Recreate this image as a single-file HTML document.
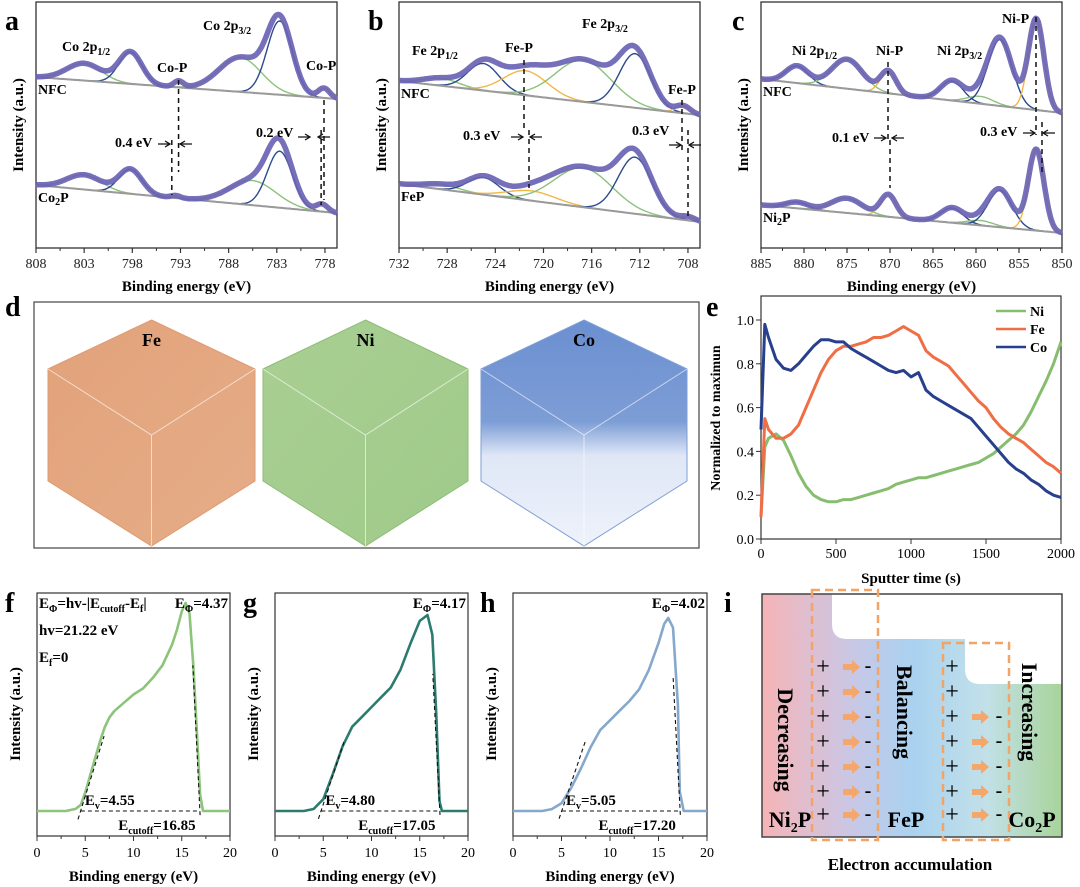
<!DOCTYPE html>
<html><head><meta charset="utf-8"><style>
html,body{margin:0;padding:0;background:#fff;width:1080px;height:887px;overflow:hidden}
svg{display:block;font-family:"Liberation Serif",serif}
.b{font-weight:bold}
</style></head><body>
<svg id="fig" xmlns="http://www.w3.org/2000/svg" width="1080" height="887" viewBox="0 0 1080 887">
<defs>
<linearGradient id="gI" x1="0" x2="1" y1="0" y2="0">
<stop offset="0" stop-color="#f6b4b6"/><stop offset="0.3" stop-color="#c9c7e6"/><stop offset="0.5" stop-color="#a9d2f0"/><stop offset="0.75" stop-color="#c2e0e8"/><stop offset="1" stop-color="#a8d49a"/></linearGradient>
<linearGradient id="gFe" x1="0" y1="0" x2="1" y2="1"><stop offset="0" stop-color="#e2a27a"/><stop offset="1" stop-color="#e5ad88"/></linearGradient>
<linearGradient id="gNi" x1="0" y1="0" x2="1" y2="1"><stop offset="0" stop-color="#a9cf92"/><stop offset="1" stop-color="#9fca8a"/></linearGradient>
<linearGradient id="gCo" x1="0" y1="0" x2="0" y2="1"><stop offset="0" stop-color="#6b8fd0"/><stop offset="0.45" stop-color="#7d9dd6"/><stop offset="0.6" stop-color="#dfe7f6"/><stop offset="1" stop-color="#eef2fb"/></linearGradient>
</defs>
</svg>
<script>
// ---------- DATA ----------
const aNfcCenters=[803,798.2,793.2,786.8,782.7,778.1];
const aNfcAmps=[7,13,2.5,14,30,4];
const aNfcSig=[1.8,1.2,0.5,2.2,1.3,0.6];
const aNfcBase=[69.5,60.6];
const aCoCenters=[803,798.2,793.5,785.5,782.7,778.3];
const aCoAmps=[6,10,1,10,23,3];
const aCoSig=[1.8,1.2,0.5,2.4,1.3,0.6];
const aCoBase=[25.6,14.2];
const aTypes=['g','b','y','g','b','y'];
const aTicks=[808,803,798,793,788,783,778];
const bNfcCenters=[728.5,725,721.5,716.7,712.4,708.4];
const bNfcAmps=[3,11,10,17,22,3];
const bNfcSig=[1.5,1.3,1.8,2.3,1.3,0.6];
const bNfcBase=[67.9,54];
const bFeCenters=[728.5,725,721,716.7,712.4,708];
const bFeAmps=[2,7,4,16,23,1.5];
const bFeSig=[1.5,1.3,2,2.4,1.4,0.6];
const bFeBase=[26,10.6];
const bTypes=['g','b','y','g','b','y'];
const bTicks=[732,728,724,720,716,712,708];
const cNfcCenters=[880.8,875,870.2,862.8,859.5,857.2,853];
const cNfcAmps=[7,12,9,8,3,27,37];
const cNfcSig=[1.3,1.8,0.9,1.3,1.5,1.4,0.9];
const cNfcBase=[68.7,54.9];
const cNiCenters=[880.8,875,870.2,862.8,859.5,857.2,853];
const cNiAmps=[2.5,6,9,6,2,15,33];
const cNiSig=[1.3,1.8,0.9,1.3,1.5,1.4,0.9];
const cNiBase=[17.5,6.1];
const cTypes=['b','g','y','b','g','b','y'];
const cTicks=[885,880,875,870,865,860,855,850];
const eTime=[0,25,50,100,150,200,250,300,350,400,450,500,550,600,650,700,750,800,850,900,950,1000,1050,1100,1150,1200,1250,1300,1350,1400,1450,1500,1550,1600,1650,1700,1750,1800,1850,1900,1950,2000];
const eNi=[0.1,0.42,0.46,0.48,0.45,0.38,0.3,0.24,0.2,0.18,0.17,0.17,0.18,0.18,0.19,0.2,0.21,0.22,0.23,0.25,0.26,0.27,0.28,0.28,0.29,0.3,0.31,0.32,0.33,0.34,0.35,0.37,0.39,0.42,0.45,0.48,0.52,0.58,0.65,0.72,0.8,0.9];
const eFe=[0.1,0.55,0.5,0.46,0.46,0.48,0.52,0.6,0.68,0.76,0.82,0.86,0.88,0.88,0.89,0.9,0.92,0.92,0.93,0.95,0.97,0.95,0.93,0.86,0.83,0.81,0.79,0.75,0.71,0.67,0.63,0.6,0.55,0.51,0.48,0.46,0.44,0.41,0.38,0.35,0.33,0.3];
const eCo=[0.5,0.98,0.92,0.82,0.78,0.77,0.8,0.84,0.88,0.91,0.91,0.9,0.9,0.87,0.85,0.83,0.81,0.79,0.77,0.76,0.77,0.74,0.76,0.68,0.65,0.63,0.61,0.59,0.57,0.55,0.51,0.47,0.43,0.39,0.35,0.32,0.3,0.27,0.25,0.22,0.2,0.19];
const eXTicks=[0,500,1000,1500,2000];
const eYTicks=[0,0.2,0.4,0.6,0.8,1.0];
const fE=[0,3,4,4.55,5,5.5,6,6.5,7,7.5,8,9,10,11,12,13,14,14.5,15,15.4,15.8,16.2,16.6,16.9,17.2,18,20];
const fI=[0,0,0.01,0.03,0.09,0.17,0.25,0.33,0.4,0.45,0.48,0.52,0.56,0.59,0.64,0.7,0.8,0.87,0.96,1,0.95,0.7,0.35,0.08,0,0,0];
const gE=[0,3,4,5,6,7,8,9,10,11,12,13,14,15,15.8,16.3,16.7,17.05,17.3,18,20];
const gI=[0,0,0.01,0.06,0.19,0.33,0.43,0.48,0.53,0.58,0.63,0.72,0.85,0.97,1,0.9,0.5,0.05,0,0,0];
const hE=[0,3,4,5,6,7,8,9,10,11,12,13,14,15,15.6,16,16.5,17,17.2,17.6,20];
const hI=[0,0,0.01,0.04,0.12,0.22,0.33,0.42,0.47,0.52,0.57,0.63,0.73,0.87,0.97,1,0.95,0.55,0.1,0,0];
const upsEv=[4.55,4.80,5.05];
const upsCut=[16.85,17.05,17.20];
const upsTicks=[0,5,10,15,20];

// ---------- HELPERS ----------
const NS='http://www.w3.org/2000/svg';
const svg=document.getElementById('fig');
function mk(tag,at,parent){const e=document.createElementNS(NS,tag);for(const k in at)e.setAttribute(k,at[k]);(parent||svg).appendChild(e);return e;}
function txt(x,y,s,size,opt,parent){const t=mk('text',Object.assign({x:x,y:y,'font-size':size},opt||{}),parent);t.innerHTML=s;return t;}
const COL={g:'#8cc27a',b:'#2c4a8c',y:'#f0b848'};

// ---------- XPS ----------
function xps(P){
  const g=mk('g',{});
  
  
  const X=e=>P.x0+(P.e0-e)*(P.x1-P.x0)/(P.e0-P.e1);
  const Y=v=>248-v*2.46;
  const box=mk('rect',{x:P.x0,y:2,width:P.x1-P.x0,height:246,fill:'none',stroke:'#333','stroke-width':1.3},g);
  
  
  P.ticks.forEach((t,i)=>{
    const tk=mk('line',{x1:X(t),x2:X(t),y1:248,y2:253,stroke:'#333','stroke-width':1.2},g);
    
    
    const lb=txt(X(t),268,t,14,{'text-anchor':'middle',fill:'#222'},g);
    
    
    if(i<P.ticks.length-1){const m=(t+P.ticks[i+1])/2;
      const mt=mk('line',{x1:X(m),x2:X(m),y1:248,y2:251,stroke:'#333','stroke-width':1},g);
      
      }
  });
  const xt=txt((P.x0+P.x1)/2,291,'Binding energy (eV)',15,{'text-anchor':'middle','class':'b'},g);
  
  
  const yt=txt(0,0,'Intensity (a.u.)',15,{'text-anchor':'middle','class':'b',transform:`translate(${P.x0-13},125) rotate(-90)`},g);
  
  
  P.spectra.forEach(S=>{
    const N=240,pts=[];
    const base=e=>S.base[0]+(S.base[1]-S.base[0])*(P.e0-e)/(P.e0-P.e1);
    for(let i=0;i<=N;i++){const e=P.e0-(P.e0-P.e1)*i/N;pts.push(e);}
    S.c.forEach((c,k)=>{
      const d='M'+pts.map(e=>X(e).toFixed(1)+','+Y(base(e)+S.a[k]*Math.exp(-Math.pow((e-c)/S.s[k],2)/2)).toFixed(1)).join('L');
      const cp=mk('path',{d:d,fill:'none',stroke:COL[P.types[k]],'stroke-width':1.4},g);
      
      
    });
    const bl=mk('path',{d:'M'+pts.map(e=>X(e).toFixed(1)+','+Y(base(e)).toFixed(1)).join('L'),fill:'none',stroke:'#9a9a9a','stroke-width':2},g);
    
    
    const tot=e=>base(e)+S.c.reduce((s,c,k)=>s+S.a[k]*Math.exp(-Math.pow((e-c)/S.s[k],2)/2),0);
    const tp=mk('path',{d:'M'+pts.map(e=>X(e).toFixed(1)+','+Y(tot(e)).toFixed(1)).join('L'),fill:'none',stroke:'#6a63b3','stroke-width':5.5,'stroke-linejoin':'round','opacity':0.92},g);
    
    
    const lb=txt(P.x0+2,Y(S.base[0])+17,S.label,14,{'class':'b'},g);
    
    
  });
  return {g:g,X:X};
}
const pa=xps({name:'panel-a-co2p',x0:36,x1:337,e0:808,e1:776.75,ticks:aTicks,types:aTypes,
 spectra:[{c:aNfcCenters,a:aNfcAmps,s:aNfcSig,base:aNfcBase,label:'NFC'},{c:aCoCenters,a:aCoAmps,s:aCoSig,base:aCoBase,label:'Co<tspan font-size="10" dy="3">2</tspan><tspan dy="-3">P</tspan>'}]});
const pb=xps({name:'panel-b-fe2p',x0:399,x1:700,e0:732,e1:707,ticks:bTicks,types:bTypes,
 spectra:[{c:bNfcCenters,a:bNfcAmps,s:bNfcSig,base:bNfcBase,label:'NFC'},{c:bFeCenters,a:bFeAmps,s:bFeSig,base:bFeBase,label:'FeP'}]});
const pc=xps({name:'panel-c-ni2p',x0:761,x1:1062,e0:885,e1:850,ticks:cTicks,types:cTypes,
 spectra:[{c:cNfcCenters,a:cNfcAmps,s:cNfcSig,base:cNfcBase,label:'NFC'},{c:cNiCenters,a:cNiAmps,s:cNiSig,base:cNiBase,label:'Ni<tspan font-size="10" dy="3">2</tspan><tspan dy="-3">P</tspan>'}]});

function dash(x,y1,y2){const l=mk('line',{x1:x,x2:x,y1:y1,y2:y2,stroke:'#111','stroke-width':1.5,'stroke-dasharray':'5,4'});
  
  }
function arrow(x,y,dir){const l=mk('path',{d:`M${x-12*dir},${y}L${x},${y}M${x-5*dir},${y-3}L${x},${y}L${x-5*dir},${y+3}`,stroke:'#111','stroke-width':1.3,fill:'none'});
  
  }
function lab(x,y,s,sz,anchor){const t=txt(x,y,s,sz||14,{'class':'b','text-anchor':anchor||'start'});
  
  return t;}
const sub=(s)=>`<tspan font-size="10" dy="4">${s}</tspan><tspan dy="-4"></tspan>`;
lab(62,51,'Co 2p'+sub('1/2'));lab(203,30,'Co 2p'+sub('3/2'));lab(157,72,'Co-P');lab(306,70,'Co-P');
dash(pa.X(793.2),80,172);dash(pa.X(793.9),140,195);dash(pa.X(778.1),100,200);dash(pa.X(778.4),130,205);
lab(115,147,'0.4 eV');arrow(170,144,1);arrow(180,144,-1);lab(256,137,'0.2 eV');arrow(310,137,1);arrow(318,137,-1);
lab(412,55,'Fe 2p'+sub('1/2'));lab(582,28,'Fe 2p'+sub('3/2'));lab(505,52,'Fe-P');lab(668,94,'Fe-P');
dash(524,60,130);dash(529,130,188);dash(682,100,150);dash(688,130,218);
lab(463,140,'0.3 eV');arrow(523,137,1);arrow(530,137,-1);lab(632,135,'0.3 eV');arrow(681,145,1);arrow(689,145,-1);
lab(792,55,'Ni 2p'+sub('1/2'));lab(937,55,'Ni 2p'+sub('3/2'));lab(876,55,'Ni-P');lab(1002,23,'Ni-P');
dash(888,62,140);dash(890,140,188);dash(1036,17,135);dash(1042,122,175);
lab(832,142,'0.1 eV');arrow(886,138,1);arrow(892,138,-1);lab(980,136,'0.3 eV');arrow(1035,133,1);arrow(1043,133,-1);

[['a',5,30],['b',368,30],['c',732,30],['d',5,316],['e',706,316],['f',5,612],['g',243,612],['h',480,612],['i',724,612]].forEach(p=>{
  const t=txt(p[1],p[2],p[0],28,{'class':'b'});
  
  
});

// ---------- panel d cubes ----------
const dFrame=mk('rect',{x:34,y:302,width:665,height:246,fill:'none',stroke:'#444','stroke-width':1.2});


[['Fe',48,255,'gFe','#e09a70'],['Ni',263,468,'gNi','#8dbd75'],['Co',481,687,'gCo','#7f9fd6']].forEach(c=>{
  const l=c[1],r=c[2],m=(l+r)/2;
  const poly=`${m},320 ${r},369 ${r},481 ${m},546 ${l},481 ${l},369`;
  const cube=mk('polygon',{points:poly,fill:`url(#${c[3]})`,stroke:c[4],'stroke-width':1});
  
  
  const ed=mk('path',{d:`M${l},369L${m},435L${r},369M${m},435L${m},546`,stroke:'#ffffff','stroke-opacity':0.6,'stroke-width':1,fill:'none'});
  
  
  const t=txt(m,346,c[0],18,{'class':'b','text-anchor':'middle'});
  
  
});

// ---------- panel e ----------
(function(){
  const X=t=>761+t*(1061-761)/2000, Y=v=>539-v*(539-320);
  const fr=mk('rect',{x:761,y:296,width:300,height:243,fill:'none',stroke:'#333','stroke-width':1.2});
  
  
  eXTicks.forEach(t=>{
    const k=mk('line',{x1:X(t),x2:X(t),y1:539,y2:544,stroke:'#333'});
    
    
    const l=txt(X(t),558,t,14,{'text-anchor':'middle'});
    
    
  });
  eYTicks.forEach(v=>{
    const k=mk('line',{x1:756,x2:761,y1:Y(v),y2:Y(v),stroke:'#333'});
    
    
    const l=txt(754,Y(v)+5,v.toFixed(1),14,{'text-anchor':'end'});
    
    
  });
  const xt=txt(911,583,'Sputter time (s)',15,{'text-anchor':'middle','class':'b'});
  
  
  const yt=txt(0,0,'Normalized to maximun',14,{'text-anchor':'middle','class':'b',transform:'translate(720,418) rotate(-90)'});
  
  
  [['Ni',eNi,'#86bd6f'],['Fe',eFe,'#ef6e45'],['Co',eCo,'#273f8c']].forEach((s,i)=>{
    const p=mk('path',{d:'M'+eTime.map((t,j)=>X(t).toFixed(1)+','+Y(s[1][j]).toFixed(1)).join('L'),fill:'none',stroke:s[2],'stroke-width':3,'stroke-linejoin':'round'});
    
    
    const ly=311+i*18;
    const ll=mk('line',{x1:996,x2:1026,y1:ly,y2:ly,stroke:s[2],'stroke-width':2.5});
    
    
    const lt=txt(1030,ly+5,s[0],14,{'class':'b'});
    
    
  });
})();

// ---------- UPS panels ----------
function ups(x0,x1,peakY,E,I,ev,cut,color,name){
  const X=e=>x0+e*(x1-x0)/20, Y=v=>811-v*(811-peakY);
  const fr=mk('rect',{x:x0,y:593,width:x1-x0,height:243,fill:'none',stroke:'#333','stroke-width':1.2});
  
  
  upsTicks.forEach((t,i)=>{
    const k=mk('line',{x1:X(t),x2:X(t),y1:836,y2:841,stroke:'#333'});
    
    
    const l=txt(X(t),857,t,14,{'text-anchor':'middle'});
    
    
    if(i<4){const mt=mk('line',{x1:X(t+2.5),x2:X(t+2.5),y1:836,y2:839,stroke:'#333'});
      
      }
  });
  const xt=txt((x0+x1)/2,881,'Binding energy (eV)',15,{'text-anchor':'middle','class':'b'});
  
  
  const yt=txt(0,0,'Intensity (a.u.)',15,{'text-anchor':'middle','class':'b',transform:`translate(${x0-17},714) rotate(-90)`});
  
  
  const bl=mk('line',{x1:X(ev),x2:X(cut),y1:811,y2:811,stroke:'#111','stroke-width':1.1,'stroke-dasharray':'4,3'});
  
  
  const p=mk('path',{d:'M'+E.map((e,j)=>X(e).toFixed(1)+','+Y(I[j]).toFixed(1)).join('L'),fill:'none',stroke:color,'stroke-width':2.6,'stroke-linejoin':'round'});
  
  
  const l1=mk('line',{x1:X(ev-0.3),x2:X(ev+2.4),y1:Y(-0.04),y2:Y(0.36),stroke:'#111','stroke-width':1.1,'stroke-dasharray':'4,3'});
  
  
  const l2=mk('line',{x1:X(cut+0.05),x2:X(cut-0.7),y1:Y(-0.02),y2:Y(0.7),stroke:'#111','stroke-width':1.1,'stroke-dasharray':'4,3'});
  
  
  const a=txt(X(ev)+4,805,'E<tspan font-size="10" dy="4">v</tspan><tspan dy="-4">=</tspan>'+ev.toFixed(2),15,{'class':'b'});
  
  
  const b=txt(X(cut)-4,830,'E<tspan font-size="10" dy="4">cutoff</tspan><tspan dy="-4">=</tspan>'+cut.toFixed(2),15,{'class':'b','text-anchor':'end'});
  
  
  const wf=(21.22-cut).toFixed(2);
  const c=txt(x1-2,608,'E<tspan font-size="10" dy="4">Φ</tspan><tspan dy="-4">=</tspan>'+wf,15,{'class':'b','text-anchor':'end'});
  
  
}
ups(37,230,603,fE,fI,upsEv[0],upsCut[0],'#8cc47a','panel-f');
ups(275,468,615,gE,gI,upsEv[1],upsCut[1],'#2b7b6f','panel-g');
ups(513,707,618,hE,hI,upsEv[2],upsCut[2],'#86a8cc','panel-h');
[['E<tspan font-size="10" dy="4">Φ</tspan><tspan dy="-4">=hv-|E</tspan><tspan font-size="10" dy="4">cutoff</tspan><tspan dy="-4">-E</tspan><tspan font-size="10" dy="4">f</tspan><tspan dy="-4">|</tspan>',608],['hv=21.22 eV',635],['E<tspan font-size="10" dy="4">f</tspan><tspan dy="-4">=0</tspan>',662]].forEach(s=>{
  const t=txt(39,s[1],s[0],15,{'class':'b'});
  
  
});

// ---------- panel i schematic ----------
(function(){
  const bg=mk('path',{d:'M762,594 L832,594 L832,624 Q832,639 847,639 L965,639 L965,669 Q965,684 980,684 L1062,684 L1062,837 L762,837 Z',fill:'url(#gI)'});
  
  
  const fr=mk('rect',{x:762,y:594,width:300,height:243,fill:'none',stroke:'#444','stroke-width':1.5});
  
  
  [[812,590,66,250],[943,643,66,197]].forEach(r=>{
    const d=mk('rect',{x:r[0],y:r[1],width:r[2],height:r[3],fill:'none',stroke:'#f0a468','stroke-width':2.5,'stroke-dasharray':'8,5'});
    
    
  });
  const rows=[667,692,717,742,767,792,815];
  rows.forEach((y,i)=>{
    [[823,true],[952,true]].forEach((c,k)=>{
      const p=txt(c[0],y+7,'+',24,{'text-anchor':'middle'});
      
      
      if(k===1&&i<2)return;
      const ax=k===0?852:981, mx=k===0?868:999;
      const ar=mk('polygon',{points:`${ax-9},${y-3} ${ax},${y-3} ${ax},${y-7} ${ax+8},${y} ${ax},${y+7} ${ax},${y+3} ${ax-9},${y+3}`,fill:'#f5a66a'});
      
      
      const m=txt(mx,y+5,'-',20,{'text-anchor':'middle','class':'b'});
      
      
    });
  });
  [['Decreasing',786,740],['Balancing',905,712],['Increasing',1030,712]].forEach(s=>{
    const t=txt(0,0,s[0],22,{'class':'b','text-anchor':'middle',transform:`translate(${s[1]-8},${s[2]}) rotate(90)`});
    
    
  });
  [['Ni<tspan font-size="14" dy="5">2</tspan><tspan dy="-5">P</tspan>',790],['FeP',906],['Co<tspan font-size="14" dy="5">2</tspan><tspan dy="-5">P</tspan>',1032]].forEach(s=>{
    const t=txt(s[1],827,s[0],22,{'class':'b','text-anchor':'middle'});
    
    
  });
  const cap=txt(910,870,'Electron accumulation',17,{'class':'b','text-anchor':'middle'});
  
  
})();
</script>
</body></html>
